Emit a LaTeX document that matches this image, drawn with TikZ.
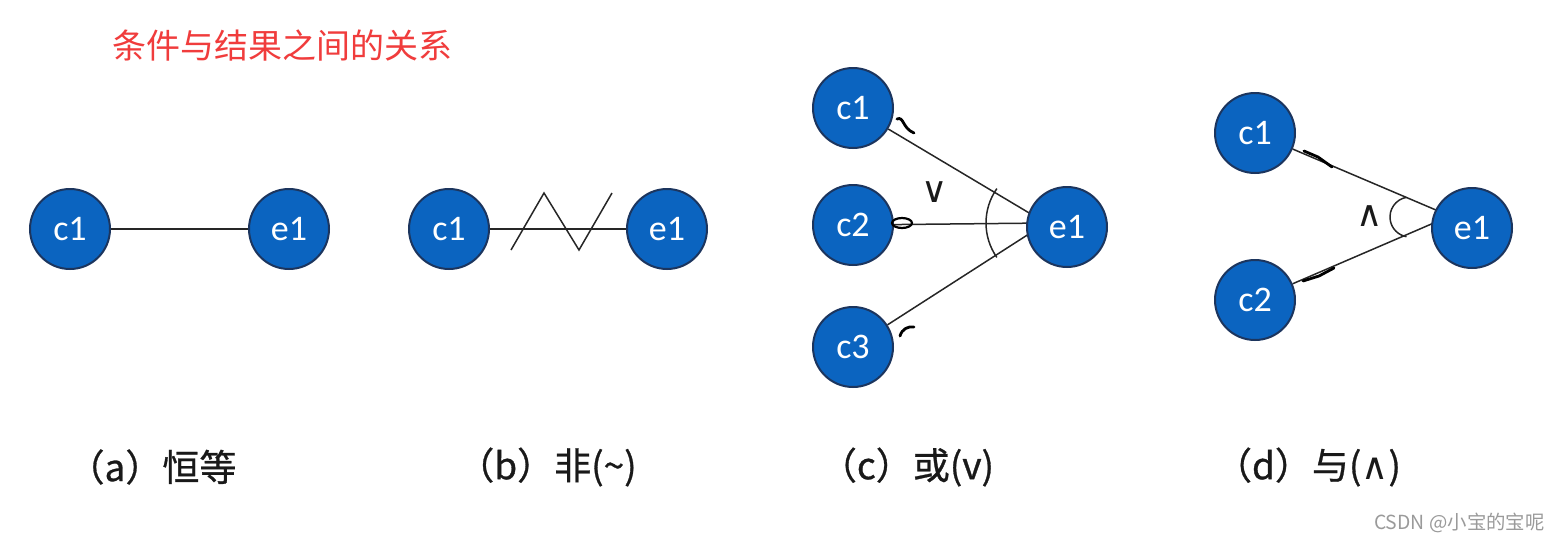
\documentclass[tikz,border=0pt]{standalone}
\usepackage{fontspec}
\setsansfont{Carlito}
\newfontfamily\cjk{Noto Sans CJK SC}
\newfontfamily\cjkcap[FakeBold=0.8]{Noto Sans CJK SC}
\newfontfamily\symb{DejaVu Sans}
\usetikzlibrary{positioning,backgrounds}
\definecolor{nodeblue}{HTML}{0B64C0}
\definecolor{nodeedge}{HTML}{1C355E}
\definecolor{titlered}{HTML}{F03C3C}
\definecolor{markgray}{HTML}{9A9A9A}
\tikzset{
  ev/.style={circle, draw=nodeedge, line width=1pt, fill=nodeblue, text=white, minimum size=40pt, inner sep=0pt, font=\sffamily\fontsize{18}{18}\selectfont},
  rel/.style={draw=black!85, line width=0.75pt},
  subcap/.style={font=\cjkcap\fontsize{18.5}{20}\selectfont, text=black!90, inner sep=0pt},
  scrib/.style={draw=black, line width=1.4pt, line cap=round},
  sym/.style={font=\symb\fontsize{18}{18}\selectfont, text=black!90, inner sep=0pt},
}

\begin{document}
\begin{tikzpicture}[x=0.5pt, y=-0.5pt]
  \useasboundingbox (0,0) rectangle (1560,542);
  \node[anchor=west, text=titlered, font=\cjk\fontsize{17}{18}\selectfont, inner sep=0pt] (title) at (112,45) {条件与结果之间的关系};

  % (a) identity
  \node[ev] (a-c1) at (70,229) {c1};
  \node[ev, right=68.5pt of a-c1] (a-e1) {e1};
  \draw[rel] (a-c1) -- (a-e1);
  \node[subcap] (a-cap) at (152,467) {（a）恒等};

  % (b) not
  \node[ev] (b-c1) at (449,229) {c1};
  \node[ev, right=68pt of b-c1] (b-e1) {e1};
  \draw[rel] (b-c1) -- (b-e1);
  \draw[rel] (511,250) -- (544,193) -- (579,250) -- (612,193);
  \node[subcap] (b-cap) at (547,467) {（b）非(\textasciitilde)};

  % (c) or
  \node[ev] (c-c1) at (853,108) {c1};
  \node[ev] (c-c2) at (853,225) {c2};
  \node[ev] (c-c3) at (853,347) {c3};
  \node[ev] (c-e1) at (1067,227) {e1};
  \coordinate (cv) at (1046,223);
  \begin{scope}[on background layer]
    \draw[rel] (c-c1) -- (cv);
    \draw[rel] (c-c2) -- (cv);
    \draw[rel] (c-c3) -- (cv);
  \end{scope}
  \draw[rel] ([shift={(145:30pt)}]cv) arc[start angle=145, end angle=215, radius=30pt];
  \node[sym] (c-or) at (935,192) {∨};
  \draw[scrib] (897,119) .. controls (904,116) and (902,128) .. (914,133);
  \draw[black, line width=1.1pt] (902,223) ellipse [x radius=5pt, y radius=2.5pt];
  \draw[scrib] (900,336) .. controls (902,329) and (908,326) .. (914,327);
  \node[subcap] (c-cap) at (907,467) {（c）或(v)};

  % (d) and
  \node[ev] (d-c1) at (1255,133) {c1};
  \node[ev] (d-c2) at (1255,300) {c2};
  \node[ev] (d-e1) at (1472,228) {e1};
  \coordinate (dv) at (1450,216);
  \begin{scope}[on background layer]
    \draw[rel] (d-c1) -- (dv);
    \draw[rel] (d-c2) -- (dv);
  \end{scope}
  \coordinate (dmark) at (1410,217);
  \draw[rel] ([shift={(100:10pt)}]dmark) arc[start angle=100, end angle=260, radius=10pt];
  \node[sym] (d-and) at (1370,216) {∧};
  \draw[scrib] (1304,151) -- (1318,157) -- (1332,167);
  \draw[scrib] (1303,281) -- (1319,276) -- (1334,268);
  \node[subcap] (d-cap) at (1308,467) {（d）与({\symb ∧})};

  \node[anchor=east, text=markgray, font=\cjk\fontsize{9.7}{10}\selectfont, inner sep=0pt] (mark) at (1545,523) {CSDN @小宝的宝呢};
\end{tikzpicture}
\end{document}
